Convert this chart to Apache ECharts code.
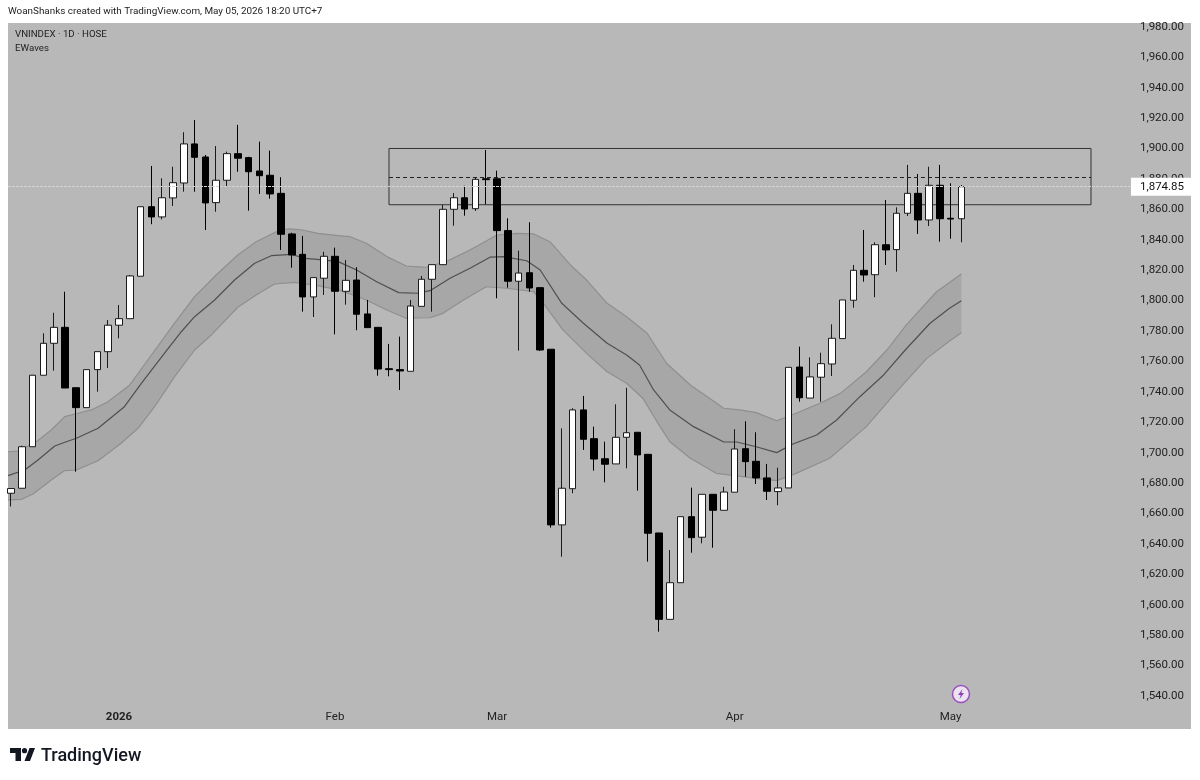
<!DOCTYPE html>
<html>
<head>
<meta charset="utf-8">
<title>VNINDEX 1D</title>
<style>
  html, body { margin: 0; padding: 0; background: #fff; }
  #chart { width: 1200px; height: 780px; }
</style>
<script src="https://cdn.jsdelivr.net/npm/echarts@6/dist/echarts.min.js"></script>
</head>
<body>
<div id="chart"></div>
<script>
// Daily sessions, oldest first; the index in each array is the bar number.
const opens = [1673.3,1676.6,1703.9,1750.9,1771.9,1782.4,1742.7,1729.6,1754.6,1766.4,1783.8,1788.1,1816,1861.7,1855,1867.5,1877.3,1903,1894.4,1864.4,1879.1,1896.6,1894,1885.2,1882.4,1870.5,1843.8,1830.4,1802.4,1814.7,1829.1,1806.1,1813.5,1791.2,1782.4,1755.2,1754.6,1753.5,1796.2,1814,1823.6,1860,1867.6,1860.4,1880.1,1880.1,1846,1812.7,1818.3,1808.5,1768,1652.5,1676.3,1728.1,1709.2,1696,1692.6,1710.1,1713.4,1698.9,1647.2,1590.4,1614.5,1657.9,1644.4,1672.6,1662.1,1674,1702.6,1694.3,1683.4,1674.4,1676.8,1756.3,1735.9,1749.6,1758.3,1775,1800.2,1819.9,1817,1836.7,1833.5,1857.4,1870.5,1853,1875.8,1854.1,1853.8];
const closes = [1676.4,1703.9,1750.9,1771.9,1782.4,1742.5,1729.6,1754.6,1766.4,1783.8,1788.1,1816.2,1861.7,1855,1867.6,1877.5,1903,1894.2,1864.2,1879.1,1896.6,1893.6,1884.7,1882.1,1870.1,1843.6,1830,1802.4,1815.1,1829.1,1806.1,1813.3,1791,1782.2,1755,1754.6,1753.7,1796.4,1814,1823.6,1860,1867.6,1860.2,1879.7,1879.5,1846,1812.7,1818.1,1808.3,1767.5,1652.5,1676.6,1728.1,1708.8,1695.8,1692.4,1710.1,1713.1,1698.5,1647,1590.4,1614.5,1657.9,1644.1,1672.6,1662.1,1674.1,1702.4,1694.1,1683.4,1674.6,1676.8,1756.1,1736.1,1749.8,1758.5,1775.2,1800.4,1819.9,1816.8,1836.7,1833.3,1857.4,1870.5,1853,1875.8,1853.8,1853.6,1874.85];
const lows = [1664.6,1676.6,1703.9,1750.9,1753.9,1742.5,1687.5,1729.6,1740.1,1755.7,1775.2,1788.1,1816,1850.2,1853.4,1862.2,1871.6,1871.6,1846.4,1858.4,1875.3,1884.7,1859.1,1870.1,1867,1833.3,1821.6,1792.7,1789.2,1803.7,1777.8,1797.3,1780.5,1782.2,1750.6,1750.2,1741.2,1753.5,1796.2,1792.7,1823.6,1849.2,1855.8,1858.9,1863.3,1801.5,1808.5,1767.1,1805.8,1766.9,1650.7,1631.6,1673.3,1701.8,1688.2,1680.5,1692.6,1689.7,1675,1628.3,1582.3,1590.4,1614.5,1634.2,1640.4,1637.5,1662.1,1674,1684.2,1679.4,1668.9,1665.4,1676.8,1733.5,1735.9,1733.5,1750.4,1775,1795.3,1812.4,1802.2,1823.4,1819,1855.6,1843.8,1849,1838.7,1840.7,1838.3];
const highs = [1676.4,1704.6,1750.9,1778.5,1792,1805.8,1742.7,1754.6,1766.4,1787.2,1797.1,1816.8,1861.7,1888.5,1880.4,1888,1910.7,1918.7,1895.7,1901.6,1897.9,1915.5,1894.5,1904.5,1898.6,1881.1,1844.6,1842.5,1815.1,1832.1,1834.8,1826.7,1821.9,1800.4,1782.4,1771.5,1776.3,1800.4,1816.2,1823.6,1862.9,1870.7,1875.5,1881.1,1899,1885.4,1854.1,1832.8,1851.5,1808.5,1768,1716,1729.2,1737.3,1717.1,1707.2,1731.8,1742.7,1713.4,1698.9,1647.2,1636,1657.9,1677,1672.6,1672.6,1677.6,1715.4,1720.6,1713.4,1692.6,1690.1,1756.1,1769.7,1762.7,1765.7,1784.4,1800.4,1823.4,1846.4,1838.3,1866.1,1861.3,1889.2,1883.2,1888,1889.2,1877.1,1876];

// Envelope study outline: [bar number, price] at each visible bend.
const bandUpper = [[-0.28,1700.6],[0.65,1701],[2.35,1707.2],[3.73,1714.9],[4.97,1723.7],[6.2,1725.9],[7.44,1728.1],[8.98,1733.5],[11,1744.5],[13,1764.2],[15.15,1785.1],[17,1802.6],[19,1816.8],[21,1830],[22.7,1838.7],[24.9,1846.4],[25.8,1847.1],[27,1846.4],[28.4,1844.2],[30.3,1842.7],[31.4,1842],[32.9,1837.7],[34.8,1828.9],[36.6,1822.7],[38.5,1821.9],[40.3,1825.6],[42.5,1833.3],[45,1843.1],[46.8,1844.2],[48.4,1843.8],[49.9,1838.7],[51.8,1823.4],[53.3,1813.5],[55.2,1798.2],[57,1789.4],[58.9,1778.5],[60.7,1758.8],[62.9,1744.5],[66,1729.2],[67.5,1728.1],[69,1726.3],[70.9,1721],[72.7,1725.9],[74.9,1732.5],[76.8,1739],[79.2,1753.2],[81.1,1767.5],[82.9,1784],[85.7,1805.8],[88,1817.5]];
const bandMiddle = [[-0.28,1684.9],[1.27,1688.6],[2.5,1695.2],[4.05,1704.4],[5.12,1707.2],[6.05,1709.5],[8.06,1716],[10.5,1730.2],[12.07,1745.6],[14.2,1765.3],[15.77,1779.5],[17,1789.4],[18.86,1800.4],[20.7,1813.5],[22.56,1824.5],[24.1,1829.5],[25.96,1830.4],[27.2,1827.8],[28.9,1826.7],[30.3,1825.6],[32,1820.1],[33.86,1812.4],[35.9,1805.2],[37.6,1804.8],[38.8,1806.5],[40.65,1814.7],[42.5,1821.2],[44.35,1828.5],[45.6,1828.9],[47.75,1826.2],[49,1820.1],[51,1798.2],[53,1785.1],[55.2,1771.9],[57,1764.2],[58.2,1757.6],[59.5,1741.2],[61,1728.1],[63.2,1717.1],[66,1707],[67.2,1707],[69,1703.9],[70.9,1700],[72.4,1705.7],[74.6,1711.6],[76.45,1721.5],[78.6,1736.8],[80.8,1751.1],[82.8,1767.5],[85.1,1785.1],[86.9,1794.9],[88,1799.9]];
const bandLower = [[-0.28,1668.9],[0.95,1669.3],[2.04,1672.8],[3.73,1682],[4.97,1688.2],[6.05,1688.6],[8.06,1694.7],[10.2,1706.2],[11.76,1716],[13.3,1730.2],[15.15,1750],[17,1767.5],[18.55,1777.4],[21,1795.6],[22.7,1803.7],[24.4,1810.9],[26.3,1812],[28.4,1809.8],[30.3,1807],[31.4,1804.3],[32.9,1800.4],[34.8,1793.8],[36.6,1788.4],[38.8,1788.7],[40,1791.6],[41.9,1800.4],[44,1809.1],[45.9,1808.1],[48.4,1805.8],[49.3,1798.2],[51.1,1780.7],[53.3,1765.3],[55.2,1753.2],[57,1745.6],[58.5,1735.8],[60.1,1717.1],[61,1707.2],[62.9,1696.3],[65.3,1686.4],[67.2,1684.7],[69,1683.1],[70.9,1681.6],[72.7,1686.4],[75.8,1696.3],[79.2,1717.1],[82,1740.1],[84.8,1762],[86.9,1773.4],[88,1778.9]];

// Price axis ticks and month markers.
const priceTicks = [1540,1560,1580,1600,1620,1640,1660,1680,1700,1720,1740,1760,1780,1800,1820,1840,1860,1880,1900,1920,1940,1960,1980];
const monthBars = [10,30,45,67,87];
const monthNames = ['2026','Feb','Mar','Apr','May'];

// Drawn resistance zone and its midline.
const zoneBars = [35,100];
const zonePrices = [1900,1863];
const zoneMidPrice = 1881.2;
const lastPrice = closes[closes.length - 1];

const uiFont = 'Roboto, sans-serif';
const candleRows = opens.map((o, i) => [i, o, closes[i], lows[i], highs[i]]);
const monthLabel = new Map(monthBars.map((b, i) => [b, monthNames[i]]));

const chart = echarts.init(document.getElementById('chart'), null, { renderer: 'canvas' });
chart.setOption({
  animation: false,
  backgroundColor: '#ffffff',
  grid: { left: 8, top: 23, width: 1183, height: 706, backgroundColor: '#b8b8b8', show: true, borderWidth: 0 },
  xAxis: {
    type: 'value',
    min: -0.278,
    max: 109.26,
    axisLine: { show: false },
    axisTick: { show: false },
    splitLine: { show: false },
    axisLabel: {
      inside: true,
      margin: 6,
      color: '#222',
      fontFamily: uiFont,
      fontSize: 11.5,
      customValues: monthBars,
      formatter: v => {
        const t = monthLabel.get(v);
        return t === '2026' ? '{year|2026}' : t;
      },
      rich: { year: { fontWeight: 'bold', fontSize: 11.5, color: '#222', fontFamily: uiFont } }
    }
  },
  yAxis: {
    type: 'value',
    position: 'right',
    min: 1518.3,
    max: 1982.5,
    axisLine: { show: false },
    axisTick: { show: false },
    splitLine: { show: false },
    axisLabel: {
      inside: true,
      margin: 7,
      color: '#222',
      fontFamily: uiFont,
      fontSize: 11.5,
      padding: [4, 0, 0, 0],
      customValues: priceTicks,
      formatter: v => v.toLocaleString('en-US', { minimumFractionDigits: 2, maximumFractionDigits: 2 })
    }
  },
  series: [
    {
      // Filled envelope between the outer study lines.
      type: 'custom',
      name: 'EWaves band',
      coordinateSystem: 'cartesian2d',
      clip: true,
      z: 1,
      silent: true,
      data: [[0]],
      encode: { x: 0 },
      renderItem: (params, api) => {
        const outline = bandUpper.concat(bandLower.slice().reverse()).map(p => api.coord(p));
        return { type: 'polygon', shape: { points: outline }, style: { fill: '#a7a7a7' } };
      }
    },
    {
      type: 'line', name: 'EWaves upper', data: bandUpper, showSymbol: false, z: 2, silent: true,
      lineStyle: { color: '#8f8f8f', width: 1.2 },
      markArea: {
        silent: true,
        itemStyle: { color: 'rgba(0,0,0,0)', borderColor: '#333', borderWidth: 1 },
        data: [[{ coord: [zoneBars[0], zonePrices[0]] }, { coord: [zoneBars[1], zonePrices[1]] }]]
      },
      markLine: {
        silent: true, symbol: 'none', label: { show: false },
        lineStyle: { color: '#222', type: [4, 3], width: 1 },
        data: [[{ coord: [zoneBars[0], zoneMidPrice] }, { coord: [zoneBars[1], zoneMidPrice] }]]
      }
    },
    {
      type: 'line', name: 'EWaves lower', data: bandLower, showSymbol: false, z: 2, silent: true,
      lineStyle: { color: '#8f8f8f', width: 1.2 }
    },
    {
      type: 'line', name: 'EWaves', data: bandMiddle, showSymbol: false, z: 2, silent: true,
      lineStyle: { color: '#505050', width: 1.2 }
    },
    {
      type: 'candlestick',
      name: 'VNINDEX',
      data: candleRows,
      encode: { x: 0, y: [1, 2, 3, 4] },
      barWidth: 7,
      z: 3,
      itemStyle: { color: '#ffffff', color0: '#000000', borderColor: '#1a1a1a', borderColor0: '#000000', borderWidth: 1 },
      markLine: {
        silent: true, symbol: 'none',
        lineStyle: { color: '#d2d2d2', type: [3, 1], width: 1 },
        label: {
          show: true,
          position: 'end',
          distance: 0,
          formatter: () => lastPrice.toLocaleString('en-US', { minimumFractionDigits: 2 }),
          backgroundColor: '#ffffff',
          color: '#111',
          fontFamily: uiFont,
          fontSize: 11.5,
          padding: [3, 7, 3, 9]
        },
        data: [[{ coord: [-0.278, lastPrice] }, { coord: [103.7, lastPrice] }]]
      }
    }
  ],
  graphic: [
    { type: 'text', left: 8, top: 7, style: { text: 'WoanShanks created with TradingView.com, May 05, 2026 18:20 UTC+7', fill: '#222', font: '9.9px ' + uiFont } },
    { type: 'text', left: 15, top: 30, style: { text: 'VNINDEX · 1D · HOSE', fill: '#222', font: '9.7px ' + uiFont } },
    { type: 'text', left: 15, top: 44, style: { text: 'EWaves', fill: '#222', font: '9.7px ' + uiFont } },
    // TradingView wordmark: bar, slash and dot
    { type: 'polygon', shape: { points: [[10,748],[21,748],[21,761],[15.5,761],[15.5,753],[10,753]] }, style: { fill: '#131722' } },
    { type: 'polygon', shape: { points: [[24.5,761],[29.5,748],[35,748],[30,761]] }, style: { fill: '#131722' } },
    { type: 'circle', shape: { cx: 24.5, cy: 750.7, r: 2.6 }, style: { fill: '#131722' } },
    { type: 'text', left: 41, top: 747, style: { text: 'TradingView', fill: '#131722', font: '500 18px ' + uiFont } },
    // Event badge above the last bars
    { type: 'circle', shape: { cx: 961, cy: 694, r: 8.5 }, style: { fill: '#ece3f1', stroke: '#9c4fc0', lineWidth: 1.5 } },
    { type: 'polygon', shape: { points: [[962.5,689],[958,695],[960.7,695],[959.5,699],[964,693],[961.3,693]] }, style: { fill: '#8e3fb3' } }
  ]
});
</script>
</body>
</html>
